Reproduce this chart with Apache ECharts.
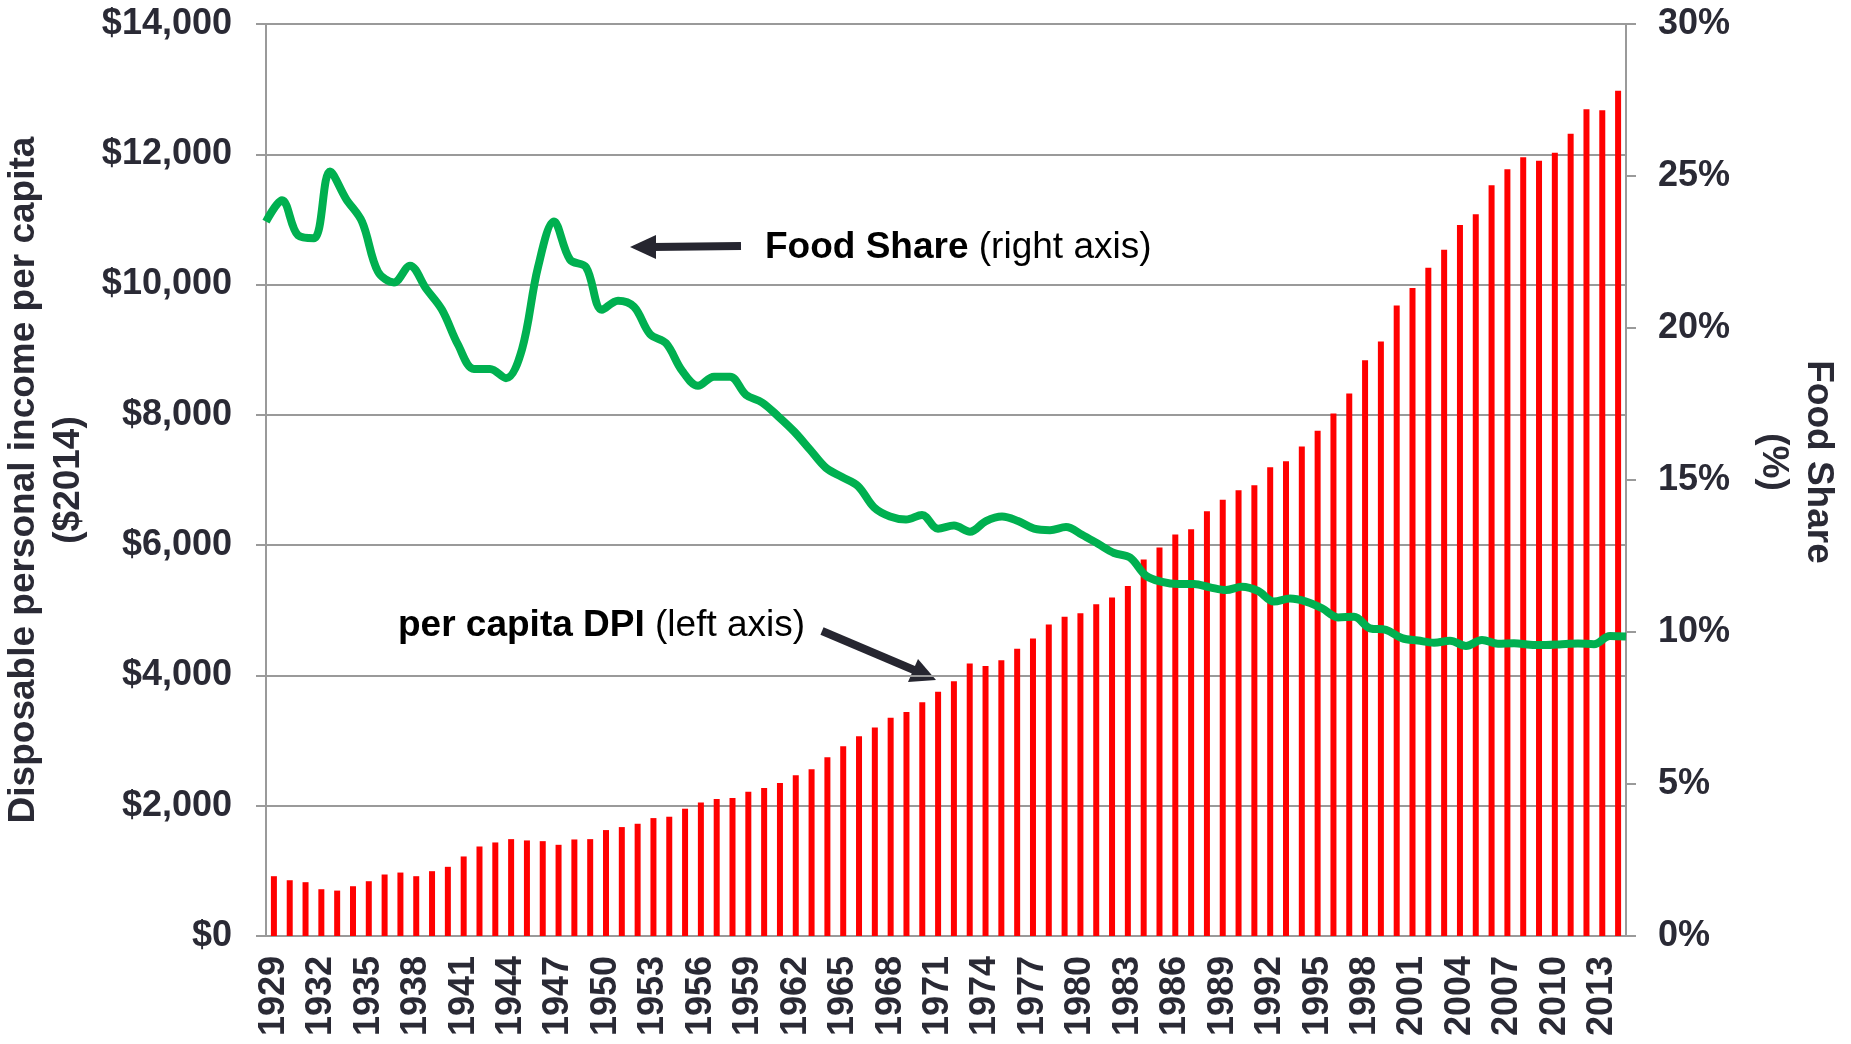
<!DOCTYPE html>
<html>
<head>
<meta charset="utf-8">
<title>Food share and per capita DPI</title>
<script src="https://cdn.jsdelivr.net/npm/echarts@6/dist/echarts.min.js"></script>
<style>
  html, body { margin: 0; padding: 0; background: #fff; }
  #chart { width: 1851px; height: 1044px; }
</style>
</head>
<body>
<div id="chart"></div>
<script>
// years 1929 .. 2014
const years = []
for (let y = 1929; y <= 2014; y++) years.push(String(y))

// per capita disposable personal income, $2014 (left axis)
const dpi = [
  918, 856, 826, 718, 697, 764, 841, 944, 974, 918,
  995, 1062, 1221, 1374, 1436, 1487, 1467, 1456, 1400, 1482,
  1487, 1626, 1672, 1723, 1810, 1831, 1954, 2051, 2103, 2118,
  2215, 2272, 2349, 2467, 2559, 2744, 2913, 3067, 3200, 3349,
  3440, 3590, 3750, 3912, 4182, 4145, 4233, 4409, 4566, 4780,
  4899, 4956, 5094, 5195, 5371, 5780, 5962, 6164, 6245, 6522,
  6698, 6843, 6918, 7195, 7289, 7516, 7755, 8020, 8328, 8839,
  9126, 9677, 9947, 10258, 10534, 10915, 11079, 11525, 11771, 11953,
  11900, 12023, 12317, 12692, 12675, 12974
]

// food share of DPI, % (right axis)
const foodShare = [
  23.5, 24.2, 23.05, 22.95, 25.15, 24.25, 23.5, 21.85, 21.5, 22.05,
  21.3, 20.6, 19.45, 18.65, 18.65, 18.35, 19.3, 22.0, 23.5, 22.25,
  22.0, 20.6, 20.9, 20.7, 19.8, 19.5, 18.6, 18.1, 18.4, 18.4,
  17.8, 17.55, 17.1, 16.6, 16.0, 15.4, 15.1, 14.8, 14.1, 13.8,
  13.7, 13.85, 13.4, 13.5, 13.3, 13.65, 13.8, 13.65, 13.4, 13.35,
  13.45, 13.2, 12.9, 12.6, 12.45, 11.85, 11.65, 11.58, 11.58, 11.47,
  11.38, 11.49, 11.35, 11.0, 11.1, 11.0, 10.78, 10.48, 10.5, 10.12,
  10.07, 9.8, 9.72, 9.65, 9.71, 9.54, 9.74, 9.61, 9.63, 9.58,
  9.57, 9.6, 9.62, 9.6, 9.87, 9.85
]

const textColor = '#2a2a35'
const gridColor = '#9a9a9a'
const font = '"Liberation Sans", Arial, sans-serif'

const chart = echarts.init(document.getElementById('chart'))

chart.setOption({
  animation: false,
  textStyle: { fontFamily: font },
  grid: { left: 266, right: 225, top: 24, bottom: 108, outerBoundsMode: 'none' },
  xAxis: [{
    type: 'category',
    data: years,
    axisLine: { lineStyle: { color: gridColor, width: 2 } },
    axisTick: { interval: 0, length: 10, lineStyle: { color: gridColor, width: 2 } },
    axisLabel: {
      interval: 2,
      rotate: 90,
      margin: 20,
      color: textColor,
      fontSize: 36,
      fontWeight: 'bold'
    }
  }, {
    // line is plotted edge to edge, on the tick marks
    type: 'category',
    data: years,
    boundaryGap: false,
    show: false
  }],
  yAxis: [{
    type: 'value',
    min: 0,
    max: 14000,
    interval: 2000,
    name: 'Disposable personal income per capita\n($2014)',
    nameLocation: 'middle',
    nameGap: 172,
    nameTextStyle: { color: textColor, fontSize: 37, fontWeight: 'bold', lineHeight: 45 },
    axisLine: { show: true, lineStyle: { color: gridColor, width: 2 } },
    axisTick: { show: true, length: 10, lineStyle: { color: gridColor, width: 2 } },
    splitLine: { lineStyle: { color: gridColor, width: 2 } },
    axisLabel: {
      margin: 34,
      color: textColor,
      fontSize: 36,
      fontWeight: 'bold',
      formatter: v => '$' + v.toLocaleString('en-US')
    }
  }, {
    type: 'value',
    min: 0,
    max: 30,
    interval: 5,
    name: 'Food Share\n(%)',
    nameLocation: 'middle',
    nameRotate: -90,
    nameGap: 125,
    nameTextStyle: {
      color: textColor, fontSize: 37, fontWeight: 'bold', lineHeight: 45,
      padding: [0, 36, 0, 0]
    },
    axisLine: { show: true, lineStyle: { color: gridColor, width: 2 } },
    axisTick: { show: true, length: 10, lineStyle: { color: gridColor, width: 2 } },
    splitLine: { show: false },
    axisLabel: {
      margin: 32,
      color: textColor,
      fontSize: 36,
      fontWeight: 'bold',
      formatter: '{value}%'
    }
  }],
  series: [{
    name: 'per capita DPI',
    type: 'bar',
    data: dpi,
    barWidth: 6,
    itemStyle: { color: '#ff0000' }
  }, {
    name: 'Food Share',
    type: 'line',
    xAxisIndex: 1,
    yAxisIndex: 1,
    data: foodShare,
    smooth: 0.35,
    symbol: 'none',
    lineStyle: { color: '#00b050', width: 8 }
  }],
  graphic: [
    // food share annotation + arrow
    { type: 'line', shape: { x1: 741, y1: 246, x2: 652, y2: 247 },
      style: { stroke: '#262630', lineWidth: 8 } },
    { type: 'polygon', shape: { points: [[630, 247], [656, 235], [656, 259]] },
      style: { fill: '#262630' } },
    { type: 'text', left: 765, top: 229,
      style: {
        text: '{b|Food Share }{n|(right axis)}',
        rich: {
          b: { fontSize: 37, fontWeight: 'bold', fill: '#000', fontFamily: font },
          n: { fontSize: 37, fill: '#000', fontFamily: font }
        }
      } },
    // per capita DPI annotation + arrow
    { type: 'text', left: 398, top: 607,
      style: {
        text: '{b|per capita DPI }{n|(left axis)}',
        rich: {
          b: { fontSize: 37, fontWeight: 'bold', fill: '#000', fontFamily: font },
          n: { fontSize: 37, fill: '#000', fontFamily: font }
        }
      } },
    { type: 'line', shape: { x1: 822, y1: 631, x2: 914, y2: 670 },
      style: { stroke: '#262630', lineWidth: 8 } },
    { type: 'polygon', shape: { points: [[936, 680], [908, 682], [918, 659]] },
      style: { fill: '#262630' } }
  ]
})

window.addEventListener('resize', () => chart.resize())
</script>
</body>
</html>
